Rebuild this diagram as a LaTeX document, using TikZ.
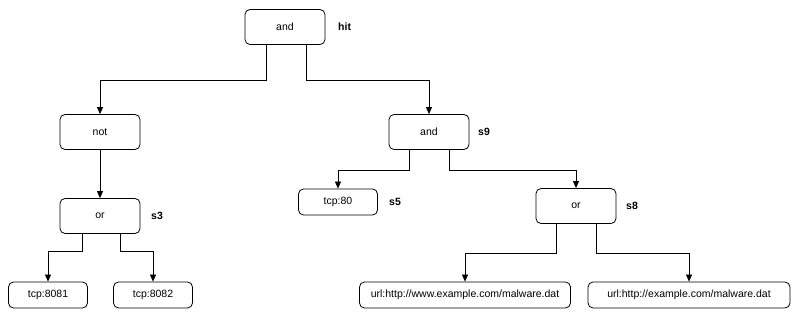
\documentclass[tikz,border=0pt]{standalone}
\usepackage{fontspec}
\setmainfont{Liberation Sans}
\usetikzlibrary{arrows.meta,calc}
\begin{document}
\begin{tikzpicture}[x=1pt,y=-1pt,
  box/.style={draw,rounded corners=5pt,line width=0.8pt,font=\fontsize{10.5}{12}\selectfont,inner sep=0pt},
  opbox/.style={box,minimum width=80pt,minimum height=35pt},
  leaf/.style={box,minimum height=26pt},
  tag/.style={font=\fontsize{10.5}{12}\selectfont\bfseries,anchor=west,inner sep=0pt},
  arr/.style={line width=0.8pt,-{Triangle[length=7pt,width=6pt]}}]
\fill[white] (0,0) rectangle (800,320);
\useasboundingbox (0,0) rectangle (800,320);
\node[opbox] (top) at (285,27) {and};
\node[tag] (thit) at (338,27) {hit};
\node[opbox] (not) at (100,132) {not};
\node[opbox] (or3) at (100,216) {or};
\node[tag] (ts3) at (151,216) {s3};
\node[leaf,minimum width=79pt] (t8081) at (48,295) {tcp:8081};
\node[leaf,minimum width=79pt] (t8082) at (153,295) {tcp:8082};
\node[opbox] (and9) at (429,132) {and};
\node[tag] (ts9) at (478,132) {s9};
\node[leaf,minimum width=79pt] (t80) at (338,202) {tcp:80};
\node[tag] (ts5) at (389,202) {s5};
\node[opbox] (or8) at (576,206) {or};
\node[tag] (ts8) at (626,206) {s8};
\node[leaf,minimum width=211pt] (u1) at (465,295) {url:http://www.example.com/malware.dat};
\node[leaf,minimum width=202pt] (u2) at (689,295) {url:http://example.com/malware.dat};
% connectors
\draw[arr] ([xshift=-19pt]top.south) -- ([xshift=-19pt]top.south |- 0,80) -| (not.north);
\draw[arr] ([xshift=21pt]top.south) -- ([xshift=21pt]top.south |- 0,80) -| (and9.north);
\draw[arr] (not.south) -- (or3.north);
\draw[arr] ([xshift=-18pt]or3.south) -- ([xshift=-18pt]or3.south |- 0,251) -| (t8081.north);
\draw[arr] ([xshift=20pt]or3.south) -- ([xshift=20pt]or3.south |- 0,251) -| (t8082.north);
\draw[arr] ([xshift=-20pt]and9.south) -- ([xshift=-20pt]and9.south |- 0,170) -| (t80.north);
\draw[arr] ([xshift=20pt]and9.south) -- ([xshift=20pt]and9.south |- 0,170) -| (or8.north);
\draw[arr] ([xshift=-20pt]or8.south) -- ([xshift=-20pt]or8.south |- 0,253) -| (u1.north);
\draw[arr] ([xshift=20pt]or8.south) -- ([xshift=20pt]or8.south |- 0,253) -| (u2.north);
\end{tikzpicture}
\end{document}
